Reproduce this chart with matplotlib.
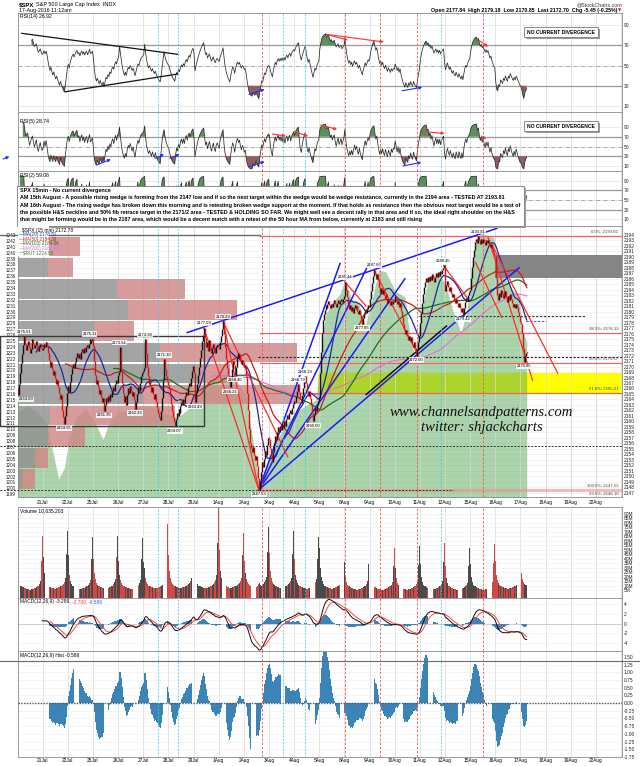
import numpy as np
import matplotlib
matplotlib.use("Agg")
import matplotlib.pyplot as plt
from matplotlib.patches import Rectangle, FancyArrowPatch
from matplotlib.lines import Line2D
from matplotlib.collections import LineCollection
from matplotlib import font_manager

# ---------------------------------------------------------------- data
day_labels = ['20Jul', '21Jul', '22Jul', '25Jul', '26Jul', '27Jul', '28Jul', '29Jul',
              '1Aug', '2Aug', '3Aug', '4Aug', '5Aug', '8Aug', '9Aug', '10Aug',
              '11Aug', '12Aug', '15Aug', '16Aug', '17Aug', '18Aug', '19Aug', '22Aug']

spx_first_open = 2166.10
# 15-minute closes, one list per session
close_20jul = [2164.89, 2166.8, 2168.9, 2170.6, 2172.3, 2174.0, 2175.51, 2174.2, 2173.0, 2173.9, 2174.6, 2173.5, 2172.4,
               2173.2, 2174.3, 2175.0, 2174.1, 2173.3, 2174.0, 2174.7, 2173.6, 2172.8, 2173.5, 2174.2, 2173.4, 2173.0]
close_21jul = [2173.3, 2174.2, 2173.6, 2174.5, 2173.8, 2172.5, 2171.2, 2170.0, 2170.8, 2169.6, 2168.5, 2169.2, 2168.0,
               2166.9, 2167.5, 2166.3, 2165.2, 2164.0, 2164.8, 2163.2, 2162.0, 2160.8, 2159.55, 2161.0, 2162.8, 2165.17]
close_22jul = [2166.5, 2165.4, 2167.2, 2168.6, 2169.8, 2170.5, 2169.7, 2170.9, 2171.8, 2172.5, 2171.6, 2172.2, 2171.4,
               2172.6, 2173.2, 2172.5, 2173.4, 2172.7, 2173.6, 2174.0, 2173.3, 2174.2, 2175.11, 2174.3, 2174.6, 2175.03]
close_25jul = [2173.7, 2171.0, 2168.4, 2166.8, 2167.5, 2166.2, 2165.0, 2165.8, 2164.4, 2163.6, 2164.3, 2161.95, 2163.0,
               2164.2, 2163.5, 2164.6, 2163.8, 2165.0, 2164.4, 2165.6, 2166.2, 2165.5, 2166.8, 2167.6, 2167.0, 2168.48]
close_26jul = [2168.97, 2173.54, 2171.6, 2169.2, 2167.0, 2165.2, 2163.5, 2164.6, 2163.0, 2164.8, 2166.0, 2165.2, 2166.5,
               2165.6, 2164.6, 2165.4, 2164.0, 2162.33, 2163.6, 2164.9, 2166.2, 2165.6, 2167.0, 2168.2, 2168.8, 2169.18]
close_27jul = [2169.81, 2174.98, 2172.4, 2170.0, 2168.2, 2166.8, 2167.6, 2166.4, 2165.3, 2166.2, 2165.0, 2164.1, 2164.9,
               2163.6, 2162.5, 2161.6, 2160.8, 2160.2, 2161.8, 2164.2, 2167.5, 2171.30, 2169.6, 2168.2, 2167.3, 2166.58]
close_28jul = [2166.05, 2164.6, 2163.2, 2161.8, 2160.8, 2160.0, 2159.07, 2160.4, 2161.6, 2160.9, 2162.3, 2161.5, 2162.8,
               2163.6, 2162.9, 2164.0, 2163.3, 2164.6, 2165.4, 2164.8, 2166.2, 2167.0, 2166.5, 2168.0, 2169.2, 2170.06]
close_29jul = [2168.83, 2163.49, 2165.2, 2166.8, 2168.5, 2170.0, 2171.6, 2173.0, 2174.6, 2175.8, 2177.09, 2175.2, 2173.6,
               2174.5, 2172.8, 2173.9, 2174.8, 2173.6, 2172.5, 2173.3, 2174.2, 2173.0, 2172.4, 2173.5, 2174.0, 2173.60]
close_01aug = [2173.15, 2174.5, 2175.6, 2176.8, 2178.29, 2176.0, 2173.5, 2171.4, 2169.8, 2168.5, 2167.4, 2166.21, 2168.0,
               2169.6, 2171.0, 2170.2, 2168.40, 2170.0, 2171.5, 2172.4, 2171.6, 2172.3, 2171.2, 2170.4, 2171.2, 2170.84]
close_02aug = [2169.94, 2170.2, 2168.3, 2165.2, 2162.0, 2158.6, 2156.0, 2155.2, 2154.4, 2155.3, 2153.8, 2152.9, 2153.6,
               2151.8, 2149.6, 2147.53, 2149.2, 2150.8, 2152.5, 2151.6, 2153.2, 2154.6, 2153.9, 2155.6, 2156.4, 2157.03]
close_03aug = [2156.81, 2155.2, 2153.8, 2152.56, 2154.4, 2156.0, 2157.4, 2156.6, 2158.0, 2158.9, 2158.1, 2159.2, 2158.5,
               2159.6, 2158.8, 2160.0, 2159.2, 2160.4, 2161.1, 2160.4, 2161.5, 2162.0, 2161.3, 2162.5, 2163.2, 2163.79]
close_04aug = [2163.51, 2164.6, 2165.5, 2166.2, 2166.79, 2165.4, 2164.0, 2163.4, 2164.8, 2166.0, 2167.2, 2168.19, 2167.0,
               2165.6, 2164.6, 2165.5, 2164.2, 2163.0, 2161.6, 2160.00, 2161.2, 2162.4, 2161.8, 2163.0, 2163.8, 2164.25]
close_05aug = [2168.79, 2172.6, 2176.2, 2178.4, 2179.6, 2180.4, 2181.3, 2180.6, 2181.4, 2182.0, 2181.3, 2180.7, 2181.5,
               2180.9, 2181.6, 2182.1, 2181.4, 2180.8, 2181.6, 2182.2, 2181.5, 2181.9, 2182.4, 2181.8, 2182.3, 2182.87]
close_08aug = [2185.44, 2184.0, 2182.6, 2181.4, 2180.5, 2181.2, 2180.2, 2180.9, 2179.8, 2180.6, 2181.3, 2180.5, 2181.0,
               2180.2, 2179.6, 2180.3, 2179.4, 2178.6, 2177.85, 2178.8, 2179.6, 2180.4, 2179.8, 2180.5, 2181.2, 2180.89]
close_09aug = [2182.24, 2183.8, 2185.2, 2186.6, 2187.66, 2186.8, 2186.0, 2186.9, 2185.8, 2184.6, 2183.5, 2184.3, 2183.2,
               2184.0, 2183.0, 2182.4, 2183.2, 2182.3, 2181.6, 2182.4, 2181.8, 2181.2, 2182.0, 2181.4, 2181.9, 2181.74]
close_10aug = [2182.81, 2182.2, 2181.4, 2182.0, 2180.9, 2181.6, 2180.2, 2179.0, 2177.8, 2176.9, 2175.9, 2176.7, 2175.6,
               2174.8, 2175.6, 2174.6, 2175.3, 2174.2, 2173.6, 2174.4, 2173.4, 2172.8, 2172.00, 2173.2, 2174.4, 2175.49]
close_11aug = [2177.97, 2179.8, 2181.6, 2183.2, 2184.6, 2185.5, 2186.2, 2185.5, 2186.4, 2185.6, 2186.6, 2185.8, 2186.9,
               2186.2, 2185.4, 2186.3, 2187.0, 2186.3, 2187.2, 2186.6, 2187.5, 2186.8, 2187.6, 2188.0, 2188.45, 2185.79]
close_12aug = [2183.74, 2184.8, 2185.6, 2184.6, 2183.8, 2184.5, 2183.4, 2182.6, 2183.2, 2182.2, 2181.6, 2182.4, 2181.6,
               2180.9, 2181.6, 2180.7, 2180.0, 2180.6, 2179.42, 2180.6, 2181.7, 2182.5, 2182.0, 2183.0, 2183.6, 2184.05]
close_15aug = [2186.08, 2188.2, 2190.0, 2191.3, 2192.2, 2192.8, 2193.2, 2192.6, 2193.81, 2193.0, 2192.4, 2193.2, 2192.6,
               2193.3, 2192.7, 2192.2, 2193.0, 2192.5, 2193.1, 2192.4, 2191.8, 2192.3, 2191.5, 2190.9, 2190.4, 2190.15]
close_16aug = [2186.24, 2183.0, 2182.2, 2183.4, 2182.6, 2184.0, 2183.2, 2182.5, 2183.6, 2182.8, 2183.8, 2182.6, 2181.8,
               2182.9, 2182.2, 2183.2, 2182.4, 2181.6, 2180.9, 2181.5, 2180.6, 2181.4, 2180.8, 2180.0, 2179.2, 2178.15]
close_17aug = [2177.84, 2176.2, 2173.4, 2170.85, 2171.9, 2172.4, 2172.70]

# 15-minute volume, millions of shares
vol_20jul = [22, 14, 12, 10, 9, 8, 8, 7, 7, 6, 6, 6, 5, 5, 6, 6, 6, 7, 7, 8, 9, 10, 12, 15, 38, 65]
vol_21jul = [42, 24, 16, 13, 11, 10, 9, 8, 8, 7, 7, 7, 6, 6, 7, 7, 8, 8, 9, 10, 11, 12, 14, 18, 45, 71]
vol_22jul = [44, 22, 15, 12, 10, 9, 8, 8, 7, 7, 6, 6, 6, 6, 6, 7, 7, 7, 8, 9, 10, 11, 13, 16, 40, 64]
vol_25jul = [40, 24, 17, 13, 11, 10, 9, 8, 8, 7, 7, 7, 6, 6, 7, 7, 7, 8, 8, 9, 10, 12, 14, 17, 42, 65]
vol_26jul = [38, 22, 16, 13, 11, 10, 9, 8, 8, 7, 7, 7, 6, 6, 6, 7, 7, 8, 8, 9, 10, 11, 13, 16, 40, 63]
vol_27jul = [36, 30, 18, 14, 12, 10, 9, 9, 8, 8, 7, 7, 7, 7, 7, 8, 8, 9, 10, 11, 12, 14, 16, 20, 48, 79]
vol_28jul = [44, 26, 18, 14, 12, 11, 10, 9, 8, 8, 7, 7, 7, 7, 8, 8, 8, 9, 10, 11, 12, 13, 15, 19, 45, 71]
vol_29jul = [40, 24, 17, 14, 12, 10, 9, 9, 8, 8, 7, 7, 7, 7, 7, 8, 8, 9, 10, 11, 12, 14, 16, 22, 58, 97]
vol_01aug = [50, 26, 18, 14, 12, 11, 10, 9, 9, 8, 8, 7, 7, 7, 8, 8, 9, 9, 10, 11, 12, 13, 15, 18, 44, 69]
vol_02aug = [38, 24, 17, 14, 12, 11, 10, 9, 9, 8, 8, 8, 7, 8, 9, 12, 13, 11, 10, 11, 12, 14, 16, 20, 48, 76]
vol_03aug = [46, 26, 18, 14, 12, 11, 10, 9, 8, 8, 7, 7, 7, 7, 7, 8, 8, 9, 10, 11, 12, 13, 15, 18, 45, 71]
vol_04aug = [40, 22, 16, 13, 11, 10, 9, 8, 8, 7, 7, 7, 6, 6, 7, 7, 8, 8, 9, 10, 11, 12, 14, 17, 40, 64]
vol_05aug = [52, 30, 20, 15, 12, 10, 9, 8, 8, 7, 7, 7, 6, 6, 7, 7, 8, 8, 9, 10, 11, 12, 14, 17, 44, 71]
vol_08aug = [36, 20, 14, 11, 10, 9, 8, 7, 7, 6, 6, 6, 5, 5, 6, 6, 6, 7, 7, 8, 9, 10, 12, 15, 34, 56]
vol_09aug = [32, 18, 13, 11, 9, 8, 8, 7, 6, 6, 6, 5, 5, 5, 5, 6, 6, 7, 7, 8, 9, 10, 11, 14, 32, 52]
vol_10aug = [30, 18, 13, 11, 10, 9, 8, 7, 7, 6, 6, 6, 5, 5, 6, 6, 6, 7, 7, 8, 9, 10, 12, 14, 33, 54]
vol_11aug = [34, 20, 14, 11, 10, 9, 8, 7, 7, 6, 6, 6, 5, 5, 6, 6, 6, 7, 7, 8, 9, 10, 12, 15, 36, 58]
vol_12aug = [32, 18, 13, 10, 9, 8, 7, 7, 6, 6, 6, 5, 5, 5, 5, 6, 6, 6, 7, 7, 8, 9, 11, 13, 32, 52]
vol_15aug = [34, 20, 14, 11, 10, 9, 8, 7, 7, 6, 6, 6, 5, 5, 5, 6, 6, 7, 7, 8, 9, 10, 12, 14, 35, 56]
vol_16aug = [38, 22, 16, 13, 11, 10, 9, 8, 8, 7, 7, 7, 6, 6, 7, 7, 7, 8, 8, 9, 10, 11, 13, 16, 43, 70]
vol_17aug = [40, 24, 17, 14, 12, 11, 10.635203]

# Russell 2000 overlay (left scale): bar index and close
rut_bar = [0, 10, 20, 30, 35, 42, 48, 53, 60, 70, 80, 88, 95, 105, 120, 135, 150, 165, 180, 195, 210, 225,
           235, 242, 249, 256, 266, 276, 287, 297, 308, 312, 318, 325, 333, 338, 345, 352, 359, 366, 373, 380,
           390, 400, 405, 410, 416, 424, 435, 442, 450, 458, 464, 470, 474, 480, 492, 496, 505, 512, 519, 521, 526]
rut_close = [1213, 1214, 1213, 1211, 1207, 1201.6, 1203.5, 1208.5, 1212, 1213.5, 1211, 1208.3, 1211.5, 1213,
             1213.5, 1214, 1213, 1212, 1214, 1218, 1219.5, 1218.5, 1216, 1209, 1201, 1203.5, 1207.8, 1210.6,
             1212.9, 1214, 1215, 1221, 1229.5, 1231.5, 1233, 1235.5, 1232, 1231.5, 1227.6, 1232, 1237, 1236.8,
             1233.5, 1232.5, 1226, 1222.5, 1228.8, 1235.5, 1236.5, 1234.5, 1230, 1226.4, 1230, 1239, 1242.5,
             1243.2, 1242.6, 1237.5, 1235, 1233.5, 1232.5, 1227, 1224.85]

# volume-by-price rows, bottom to top (up volume / down volume)
vbp_up = [4.7, 18.1, 31.5, 33.6, 129.8, 188.7, 147.4, 79.1, 114.3, 102.9, 31.5, 31.5]
vbp_down = [13.4, 13.4, 38.3, 129.4, 162.3, 31.0, 141.6, 41.4, 112.7, 70.3, 25.9, 33.1]

# retracement anchors
fib_high = 2193.81
fib_low = 2147.53
fib_pcts = [0.0, 38.2, 50.0, 61.8, 100.0]

# bars whose close is annotated
label_above = [6, 74, 105, 131, 151, 192, 212, 290, 297, 338, 368, 440, 476]
label_below = [48, 89, 121, 162, 183, 219, 224, 249, 305, 356, 412, 460, 523]

# hand-drawn trend lines: ((bar, price), (bar, price))
blue_lines = [((175, 2176.2), (495, 2195.2)), ((249, 2147.53), (518, 2188.0)),
              ((249, 2147.53), (333, 2188.8)), ((249, 2147.53), (362, 2188.5)),
              ((249, 2147.53), (400, 2186.0))]
black_lines = [((360, 2164.9), (443, 2177.4))]
red_lines = [((192, 2177.09), (249, 2147.53)), ((212, 2178.29), (249, 2147.53)),
             ((214, 2177.5), (279, 2153.5)), ((338, 2185.44), (360, 2181.0)),
             ((368, 2187.66), (414, 2172.0)), ((440, 2188.45), (465, 2182.4)),
             ((473, 2189.0), (500, 2179.0)), ((486, 2193.6), (532, 2167.5)),
             ((491, 2191.9), (558, 2168.8))]

# RSI trend lines and divergence arrows ((bar, value), (bar, value))
rsi14_black = [((4, 81.8), (165, 61.1)), ((49, 24.1), (165, 41.6))]
rsi14_red = [((319, 80.8), (341, 75.2)), ((319, 80.8), (378, 73.3)), ((475, 75.9), (486, 68.6))]
rsi14_blue = [((239, 21.6), (255, 26.5)), ((397, 25.1), (418, 28.5))]
rsi5_red = [((263, 75.6), (277, 71.5)), ((285, 80.4), (300, 71.5)), ((313, 94.0), (330, 85.2)),
            ((418, 80.4), (441, 77.0)), ((479, 71.5), (484, 64.8))]
rsi5_blue = [((81, 12.0), (96, 23.7)), ((142, 25.8), (151, 34.0)), ((157, 25.8), (167, 34.0)),
             ((239, 8.6), (255, 18.8)), ((398, 10.0), (417, 17.6))]

red_dash_bars = [252, 338, 374, 413, 481]
cyan_dash_bars = [145, 165, 274, 297, 437]

comment_lines = [
    "SPX 15min - No current divergence",
    "AM 15th August - A possible rising wedge is forming from the 2147 low and if so the next target within the wedge would be wedge resistance, currently in the 2194 area - TESTED AT 2193.81",
    "AM 16th August - The rising wedge has broken down this morning and is retesting broken wedge support at the moment. If that holds as resistance then the obvious next target would be a test of",
    "the possible H&S neckline and 50% fib retrace target in the 2171/2 area - TESTED & HOLDING SO FAR. We might well see a decent rally in that area and if so, the ideal right shoulder on the H&S",
    "that might be forming would be in the 2187 area, which would be a decent match with a retest of the 50 hour MA from below, currently at 2183 and still rising",
]

# ---------------------------------------------------------------- series
closes = np.array(close_20jul + close_21jul + close_22jul + close_25jul + close_26jul + close_27jul +
                  close_28jul + close_29jul + close_01aug + close_02aug + close_03aug + close_04aug +
                  close_05aug + close_08aug + close_09aug + close_10aug + close_11aug + close_12aug +
                  close_15aug + close_16aug + close_17aug, dtype=float)
volume = np.array(vol_20jul + vol_21jul + vol_22jul + vol_25jul + vol_26jul + vol_27jul + vol_28jul +
                  vol_29jul + vol_01aug + vol_02aug + vol_03aug + vol_04aug + vol_05aug + vol_08aug +
                  vol_09aug + vol_10aug + vol_11aug + vol_12aug + vol_15aug + vol_16aug + vol_17aug, dtype=float)
n = len(closes)
x = np.arange(n)
opens = np.concatenate([[spx_first_open], closes[:-1]])
rising = closes >= opens


def sma(a, w):
    out = np.full(len(a), np.nan)
    c = np.cumsum(np.insert(a, 0, 0.0))
    out[w - 1:] = (c[w:] - c[:-w]) / w
    return out


def wilder_rsi(c, w):
    d = np.diff(c)
    g = np.where(d > 0, d, 0.0)
    l = np.where(d < 0, -d, 0.0)
    out = np.full(len(c), np.nan)
    ag, al = g[:w].mean(), l[:w].mean()

    def val(a, b):
        return 100.0 if b == 0 else 100.0 - 100.0 / (1.0 + a / b)
    out[w] = val(ag, al)
    for i in range(w, len(d)):
        ag = (ag * (w - 1) + g[i]) / w
        al = (al * (w - 1) + l[i]) / w
        out[i + 1] = val(ag, al)
    return out


def ema(a, w):
    out = np.full(len(a), np.nan)
    s = np.where(~np.isnan(a))[0][0]
    out[s + w - 1] = np.mean(a[s:s + w])
    k = 2.0 / (w + 1)
    for i in range(s + w, len(a)):
        out[i] = a[i] * k + out[i - 1] * (1 - k)
    return out


ma20, ma50, ma100, ma200 = sma(closes, 20), sma(closes, 50), sma(closes, 100), sma(closes, 200)
rsi14, rsi5, rsi2 = wilder_rsi(closes, 14), wilder_rsi(closes, 5), wilder_rsi(closes, 2)
macd = ema(closes, 12) - ema(closes, 26)
signal = ema(macd, 9)
hist = macd - signal

# ---------------------------------------------------------------- figure
W, H = 640, 766
plt.rcParams['font.family'] = ['Liberation Sans', 'DejaVu Sans']
fig = plt.figure(figsize=(W / 100, H / 100), dpi=100)
fig.patch.set_facecolor('white')
renderer = fig.canvas.get_renderer()
font_names = {f.name for f in font_manager.fontManager.ttflist}
narrow = 'Liberation Sans Narrow' if 'Liberation Sans Narrow' in font_names else 'Liberation Sans'

LEFT, RIGHT = 17.5, 622.0
XLIM = (-0.5, 624.5)
PXB = (RIGHT - LEFT) / (XLIM[1] - XLIM[0])


def bx(b):
    return LEFT + (b - XLIM[0]) * PXB


def add_panel(top, bottom):
    return fig.add_axes([LEFT / W, 1 - bottom / H, (RIGHT - LEFT) / W, (bottom - top) / H])


def ftext(px, py, s, **kw):
    kw.setdefault('fontsize', 3.6)
    kw.setdefault('va', 'center')
    kw.setdefault('zorder', 12)
    return fig.text(px / W, 1 - py / H, s, **kw)


def seq_text(px, py, parts, size=3.6, weight='normal'):
    for s, col in parts:
        t = ftext(px, py, s, color=col, fontsize=size, weight=weight)
        px += t.get_window_extent(renderer=renderer).width


def style(ax, grid=True):
    ax.set_xlim(XLIM)
    ax.set_xticks([])
    for s in ax.spines.values():
        s.set_color('#8a8a8a')
        s.set_linewidth(0.6)
    ax.tick_params(axis='y', length=0, labelsize=3.5, pad=1.5, labelleft=False,
                   labelright=True, colors='#222222')
    if grid:
        for i in range(1, 25):
            ax.axvline(26 * i - 0.5, color='#dadada', lw=0.5, zorder=0)
    for b in red_dash_bars:
        ax.axvline(b, color='#ff4d4d', lw=0.6, ls=(0, (3, 2)), zorder=6)
    for b in cyan_dash_bars:
        ax.axvline(b, color='#2fd3e6', lw=0.6, ls=(0, (2, 2)), zorder=6)


def arrows(ax, segs, color):
    for (b0, v0), (b1, v1) in segs:
        ax.annotate('', xy=(b1, v1), xytext=(b0, v0),
                    arrowprops=dict(arrowstyle='-|>', color=color, lw=0.8, mutation_scale=4,
                                    shrinkA=0, shrinkB=0), zorder=8)


def rsi_panel(ax, vals, ylim):
    style(ax)
    ax.set_ylim(*ylim)
    ax.set_yticks([90, 70, 50, 30, 10])
    ax.set_yticklabels(['90', '70', '50', '30', '10'])
    for lev in (90, 10):
        ax.axhline(lev, color='#e2e2e2', lw=0.5, zorder=0)
    for lev in (70, 30):
        ax.axhline(lev, color='#9a9a9a', lw=0.9, zorder=1)
    ax.axhline(50, color='#9a9a9a', lw=0.6, ls=(0, (5, 1.5, 1, 1.5)), zorder=1)
    ax.fill_between(x, vals, 70, where=vals >= 70, interpolate=True, color='#5e8f5b', lw=0, zorder=2)
    ax.fill_between(x, vals, 30, where=vals <= 30, interpolate=True, color='#8f5e5e', lw=0, zorder=2)
    ax.plot(x, vals, color='#2b2b2b', lw=0.55, zorder=3)


# ---------------- header
ftext(19, 4.5, '$SPX', fontsize=4.3, weight='bold')
ftext(36, 4.5, 'S&P 500 Large Cap Index  INDX', fontsize=4.0)
ftext(19, 10.5, '17-Aug-2016 11:12am', fontsize=3.8)
ftext(622, 4.5, '@StockCharts.com', fontsize=3.8, ha='right', color='#333333')
ftext(617, 10.5, 'Open 2177.84  High 2179.18  Low 2170.85  Last 2172.70  Chg -5.45 (-0.25%)',
      fontsize=3.8, ha='right', weight='bold')
ftext(621.5, 10.5, '\u25bc', fontsize=3.0, ha='right', color='#d00000', family=['DejaVu Sans'])

# ---------------- RSI(14)
ax_r14 = add_panel(13, 112)
rsi_panel(ax_r14, rsi14, (4.1, 101.9))
for (b0, v0), (b1, v1) in rsi14_black:
    ax_r14.plot([b0, b1], [v0, v1], color='#111111', lw=0.9, zorder=7)
arrows(ax_r14, rsi14_red, '#ff3030')
arrows(ax_r14, rsi14_blue, '#2030ff')
ftext(20, 16.5, f'RSI(14) {rsi14[-1]:.2f}', fontsize=3.7)

# ---------------- RSI(5)
ax_r5 = add_panel(112, 171)
rsi_panel(ax_r5, rsi5, (-0.26, 120.8))
arrows(ax_r5, rsi5_red, '#ff3030')
arrows(ax_r5, rsi5_blue, '#2030ff')
fig.add_artist(FancyArrowPatch((0.5 / W, 1 - 160 / H), (12 / W, 1 - 155.5 / H),
                               transform=fig.transFigure, arrowstyle='-|>',
                               mutation_scale=4, color='#2030ff', lw=0.8))
ftext(20, 122, f'RSI(5) {rsi5[-1]:.2f}', fontsize=3.7)

# ---------------- RSI(2)
ax_r2 = add_panel(171, 226)
rsi_panel(ax_r2, rsi2, (-4.7, 111.0))
ftext(20, 176, f'RSI(2) {rsi2[-1]:.2f}', fontsize=3.7)

for top in (27, 121):
    fig.add_artist(Rectangle((525.5 / W, 1 - (top + 11.5) / H), 74 / W, 10 / H, transform=fig.transFigure,
                             fc='#9a9a9a', ec='none', zorder=9))
    fig.add_artist(Rectangle((524 / W, 1 - (top + 10) / H), 74 / W, 10 / H, transform=fig.transFigure,
                             fc='white', ec='#7a7a7a', lw=0.6, zorder=10))
    ftext(561, top + 5, 'NO CURRENT DIVERGENCE', fontsize=3.6, weight='bold', ha='center')

# ---------------- comment box
fig.add_artist(Rectangle((19 / W, 1 - 228 / H), 507 / W, 40 / H, transform=fig.transFigure,
                         fc='#a0a0a0', ec='none', zorder=10))
fig.add_artist(Rectangle((17 / W, 1 - 226 / H), 507 / W, 40 / H, transform=fig.transFigure,
                         fc='white', ec='#7a7a7a', lw=0.6, zorder=10))
probe = ftext(20, 200, comment_lines[2], fontsize=10, family=[narrow, 'DejaVu Sans'], weight='bold')
csize = 10 * 499 / probe.get_window_extent(renderer=renderer).width
probe.remove()
for i, line in enumerate(comment_lines):
    ftext(20, 190.5 + 7.3 * i, line, fontsize=csize, family=[narrow, 'DejaVu Sans'], weight='bold')

# ---------------- price panel
P_TOP, P_BOT = 226, 497
ax_bg = add_panel(P_TOP, P_BOT)
ax_main = add_panel(P_TOP, P_BOT)
ax_bg.set_zorder(0)
ax_main.set_zorder(1)
ax_main.patch.set_visible(False)
ax_bg.set_xlim(XLIM)
ax_bg.set_xticks([])
ax_bg.set_ylim(1198.52, 1244.53)
for s in ax_bg.spines.values():
    s.set_visible(False)
ax_bg.set_yticks(np.arange(1199, 1244))
ax_bg.tick_params(axis='y', length=0, labelsize=3.3, pad=1.2, colors='#222222')

style(ax_main)
ax_main.set_ylim(2146.2, 2195.64)
ax_main.set_yticks(np.arange(2147, 2195))
ax_bg.add_collection(LineCollection([[(XLIM[0], v), (XLIM[1], v)] for v in np.arange(2147, 2195)],
                                    transform=ax_main.transData, colors='#ebebeb', lw=0.4, zorder=0))
for i in range(1, 25):
    ax_bg.axvline(26 * i - 0.5, color='#dadada', lw=0.5, zorder=0)

# yellow target zone beneath the overlay
fib_vals = [fib_high - p / 100.0 * (fib_high - fib_low) for p in fib_pcts]
ax_bg.add_patch(Rectangle((310.5, fib_vals[3]), XLIM[1] - 310.5, 2168.8 - fib_vals[3],
                          transform=ax_main.transData, fc='#ffff00', ec='none', zorder=1))
# RUT overlay area
ax_bg.fill_between(rut_bar, rut_close, 1190, color='#5aaa5a', alpha=0.5, lw=0, zorder=2)

# volume by price
edges = np.linspace(closes.min(), closes.max(), len(vbp_up) + 1)
for i in range(len(vbp_up)):
    h = (edges[i + 1] - edges[i]) * 0.92
    y0 = edges[i] + (edges[i + 1] - edges[i]) * 0.04
    ax_main.add_patch(Rectangle((XLIM[0], y0), vbp_up[i], h, fc='#8e8e8e', ec='none', alpha=0.8, zorder=1))
    ax_main.add_patch(Rectangle((XLIM[0] + vbp_up[i], y0), vbp_down[i], h, fc='#d08484', ec='none',
                                alpha=0.8, zorder=1))
# dark zone at right
ax_main.add_patch(Rectangle((493, 2186.1), XLIM[1] - 493, 4.2, fc='#858585', ec='none', zorder=1.5))

# retracement lines and labels
for p, v in zip(fib_pcts, fib_vals):
    if p == 100.0:
        ax_main.plot([250, XLIM[1]], [v, v], color='#f08a8a', lw=2.2, alpha=0.6, zorder=2)
    else:
        ax_main.plot([250, XLIM[1]], [v, v], color='#ff5a5a', lw=0.8, zorder=2)
    ax_main.text(620.5, v + 0.35, f'{p:.1f}%: {v:.2f}', fontsize=3.1, color='#444444', ha='right',
                 va='bottom', zorder=9)
ax_main.text(620.5, fib_low - 0.5, '23.6%: 2146.10', fontsize=3.1, color='#444444', ha='right', va='top', zorder=9)

# dotted levels and range box (some reach into the left margin)
margin_b = XLIM[0] - LEFT / PXB
dot = (0, (2, 1.5))
ax_main.plot([margin_b, XLIM[1]], [2155.5, 2155.5], color='#333333', lw=0.7, ls=dot, clip_on=False, zorder=3)
ax_main.plot([margin_b, 450], [2147.45, 2147.45], color='#333333', lw=0.7, ls=dot, clip_on=False, zorder=3)
ax_main.plot([248, XLIM[1]], [2171.8, 2171.8], color='#222222', lw=0.8, ls=dot, zorder=3)
ax_main.plot([415, 586], [2179.2, 2179.2], color='#333333', lw=0.8, ls=dot, zorder=3)
ax_main.plot([525, 546], [2178.3, 2178.3], color='#3050ff', lw=0.8, ls=dot, zorder=3)
ax_main.plot([margin_b, 250], [2193.95, 2193.95], color='#6a6a6a', lw=1.0, clip_on=False, zorder=3)
ax_main.add_patch(Rectangle((margin_b, 2159.1), 192.6 - margin_b, 16.5, fc='none', ec='#3a3a3a', lw=1.0,
                            clip_on=False, zorder=3))

# moving averages
ax_main.plot(x, ma200, color='#e36be3', lw=0.8, zorder=4)
ax_main.plot(x, ma100, color='#1f6e1f', lw=0.9, zorder=4)
ax_main.plot(x, ma50, color='#c81e1e', lw=0.9, zorder=4)
ax_main.plot(x, ma20, color='#1c2a9c', lw=0.9, zorder=4)

# trend lines
for (b0, p0), (b1, p1) in blue_lines:
    ax_main.plot([b0, b1], [p0, p1], color='#1a1aff', lw=1.1, zorder=5)
for (b0, p0), (b1, p1) in black_lines:
    ax_main.plot([b0, b1], [p0, p1], color='#111111', lw=1.1, zorder=5)
for (b0, p0), (b1, p1) in red_lines:
    ax_main.plot([b0, b1], [p0, p1], color='#ff2a2a', lw=0.9, zorder=5)

# candles
lo = np.minimum(opens, closes)
hi = np.maximum(opens, closes)
hi = np.where(hi - lo < 0.25, lo + 0.25, hi)
ax_main.vlines(x, lo, hi, colors=np.where(rising, '#111111', '#e01010'), lw=1.0, zorder=6)

# close annotations
lab_box = dict(boxstyle='square,pad=0.15', fc='white', ec='none', alpha=0.85)
for b in label_above:
    ax_main.text(b, closes[b] + 0.45, f'{closes[b]:.2f}', fontsize=3.0, ha='center', va='bottom', zorder=9,
                 bbox=lab_box)
for b in label_below:
    ax_main.text(b, closes[b] - 0.45, f'{closes[b]:.2f}', fontsize=3.0, ha='center', va='top', zorder=9,
                 bbox=lab_box)
ax_main.text(0.5, closes[0] - 0.5, f'{closes[0]:.2f}', fontsize=3.0, ha='left', va='top', zorder=9,
             bbox=lab_box)

# watermark
wm = dict(family=['Liberation Serif', 'DejaVu Serif'], style='italic', fontsize=10.6, color='#111111',
          ha='center', va='center', zorder=11)
ftext(481, 412.5, 'www.channelsandpatterns.com', **wm)
ftext(482, 427.5, 'twitter: shjackcharts', **wm)

# legend
fig.add_artist(Rectangle((17.8 / W, 1 - 256 / H), 31 / W, 29.5 / H, transform=fig.transFigure,
                         fc='white', ec='none', zorder=10))
ftext(22, 230.5, f'$SPX (15 min) {closes[-1]:.2f}', fontsize=3.5)
legend_rows = [(f'MA(20) {ma20[-1]:.2f}', '#1c2a9c'), (f'MA(50) {ma50[-1]:.2f}', '#c81e1e'),
               (f'MA(100) {ma100[-1]:.2f}', '#1f6e1f'), (f'MA(200) {ma200[-1]:.2f}', '#e36be3'),
               (f'$RUT {rut_close[-1]:.2f}', '#2e7d2e')]
for i, (s, col) in enumerate(legend_rows):
    ftext(19, 235 + 4.5 * i, '\u2014', fontsize=3.5, color=col)
    ftext(23, 235 + 4.5 * i, s, fontsize=3.3, color=col)

# date labels below the price panel
for i in range(1, 24):
    ftext(bx(26 * i - 0.5), 502, day_labels[i], fontsize=3.4, ha='center')

# ---------------- volume
ax_vol = add_panel(507, 598)
style(ax_vol)
vol_floor = -3.9
ax_vol.set_ylim(vol_floor, 97.8)
ticks = np.arange(5, 95, 5)
ax_vol.set_yticks(ticks)
ax_vol.set_yticklabels([f'{t}M' for t in ticks])
for t in ticks:
    ax_vol.axhline(t, color='#eeeeee', lw=0.4, zorder=0)
ax_vol.bar(x, volume - vol_floor, width=0.85, bottom=vol_floor,
           color=np.where(rising, '#4a4a4a', '#d04848'), lw=0, zorder=3)
ftext(20, 511, f'Volume {int(round(volume[-1] * 1e6)):,}', fontsize=3.6)

# ---------------- MACD
ax_macd = add_panel(598, 651)
style(ax_macd)
ax_macd.set_ylim(-5.64, 5.23)
ax_macd.set_yticks([4, 2, 0, -2, -4])
ax_macd.set_yticklabels(['4', '2', '0', '-2', '-4'])
for t in (4, 2, -2, -4):
    ax_macd.axhline(t, color='#eeeeee', lw=0.4, zorder=0)
ax_macd.axhline(0, color='#c8c8c8', lw=0.6, zorder=1)
ax_macd.bar(x, np.nan_to_num(hist), width=0.85, color='#3b84b8', lw=0, zorder=2)
ax_macd.plot(x, signal, color='#ff4444', lw=0.7, zorder=3)
ax_macd.plot(x, macd, color='#111111', lw=0.7, zorder=4)
seq_text(20, 602, [(f'MACD(12,26,9) {macd[-1]:.3f}, ', '#111111'), (f'{signal[-1]:.3f}, ', '#ff3030'),
                   (f'{hist[-1]:.3f}', '#3060ff')], size=3.5)

# ---------------- MACD histogram
ax_h = add_panel(651, 757)
style(ax_h)
ax_h.set_ylim(-1.753, 1.69)
hticks = np.arange(-1.75, 1.51, 0.25)
ax_h.set_yticks(hticks)
ax_h.set_yticklabels([f'{t:.2f}' for t in hticks])
for t in hticks:
    ax_h.axhline(t, color='#eeeeee', lw=0.4, zorder=0)
ax_h.bar(x, np.nan_to_num(hist), width=0.85, color='#3b84b8', lw=0, zorder=2)
ax_h.axhline(0, color='#555555', lw=1.0, ls=(0, (1, 1)), zorder=3)
ftext(20, 655, f'MACD(12,26,9) Hist {hist[-1]:.3f}', fontsize=3.5)
fig.add_artist(Line2D([0, 1], [1 - 661 / H, 1 - 661 / H], transform=fig.transFigure, color='#6a6a6a',
                      lw=0.8, zorder=8))
for i in range(1, 24):
    ftext(bx(26 * i - 0.5), 760.5, day_labels[i], fontsize=3.4, ha='center')

fig.savefig('out.png', dpi=100, facecolor='white')
